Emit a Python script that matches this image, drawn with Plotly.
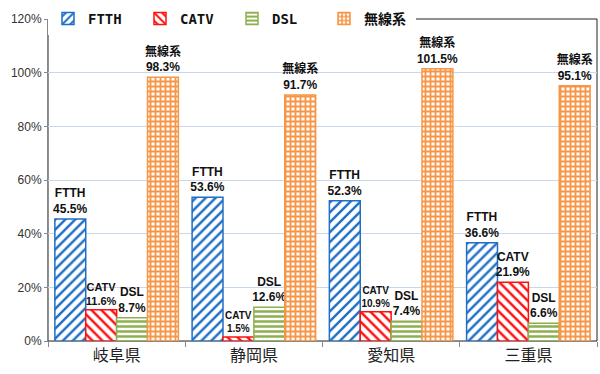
import plotly.graph_objects as go

categories = ["岐阜県", "静岡県", "愛知県", "三重県"]
series_names = ["FTTH", "CATV", "DSL", "無線系"]
ftth = [45.5, 53.6, 52.3, 36.6]
catv = [11.6, 1.5, 10.9, 21.9]
dsl = [8.7, 12.6, 7.4, 6.6]
wireless = [98.3, 91.7, 101.5, 95.1]
y_ticks = [0, 20, 40, 60, 80, 100, 120]
y_tick_labels = ["0%", "20%", "40%", "60%", "80%", "100%", "120%"]

styles = [
    dict(color="#1F6FC6", shape="/", size=7, solidity=0.35, fs=[12, 12, 12, 12]),
    dict(color="#FF1010", shape="\\", size=7, solidity=0.35, fs=[11, 10, 10, 12]),
    dict(color="#8DB04E", shape="-", size=5, solidity=0.5, fs=[12, 12, 12, 12]),
    dict(color="#F79646", shape="+", size=5, solidity=0.6, fs=[12, 12, 12, 12]),
]

fig = go.Figure()
for name, vals, st in zip(series_names, [ftth, catv, dsl, wireless], styles):
    fig.add_trace(go.Bar(
        x=categories, y=vals, name=name,
        marker=dict(
            color=st["color"],
            line=dict(color=st["color"], width=1.5),
            pattern=dict(shape=st["shape"], fillmode="replace", fgcolor=st["color"],
                         bgcolor="white", size=st["size"], solidity=st["solidity"]),
        ),
        texttemplate=name + "<br>%{y:.1f}%",
        textposition="outside",
        constraintext="none",
        cliponaxis=False,
        textfont=dict(family="Liberation Sans, Noto Sans CJK JP", size=st["fs"],
                      color="#111111", weight="bold"),
    ))

fig.update_layout(
    width=600, height=374,
    margin=dict(l=48, r=3, t=15, b=33),
    paper_bgcolor="white", plot_bgcolor="white",
    barmode="group", bargap=0.1, bargroupgap=0,
    showlegend=True,
    legend=dict(orientation="h", x=0.0, xanchor="left", y=1.0, yanchor="middle",
                bgcolor="white", entrywidth=47, entrywidthmode="pixels",
                font=dict(family="DejaVu Sans Mono, Noto Sans CJK JP", size=14,
                          color="#111111", weight="bold"),
                itemwidth=30, tracegroupgap=0),
    font=dict(family="Liberation Sans, Noto Sans CJK JP", color="#333333"),
    shapes=[dict(type="rect", xref="paper", yref="paper", x0=0, x1=1, y0=0, y1=1,
                 line=dict(color="#222222", width=1), layer="below")],
)
fig.update_yaxes(range=[0, 120], tickvals=y_ticks, ticktext=y_tick_labels,
                 showgrid=True, gridcolor="#C9D7EC", gridwidth=1,
                 showline=True, linecolor="#888888", linewidth=1,
                 ticks="outside", ticklen=3, tickcolor="#888888",
                 tickfont=dict(size=12, color="#333333"), zeroline=False)
fig.update_xaxes(showline=True, linecolor="#888888", linewidth=1,
                 ticks="outside", tickson="boundaries", ticklen=5, tickcolor="#888888",
                 tickfont=dict(size=16, color="#222222", family="Noto Sans CJK JP"))

fig.write_html("out.html", config={"displayModeBar": False},
               post_script="document.body.style.margin='0';document.body.style.overflow='hidden';")
